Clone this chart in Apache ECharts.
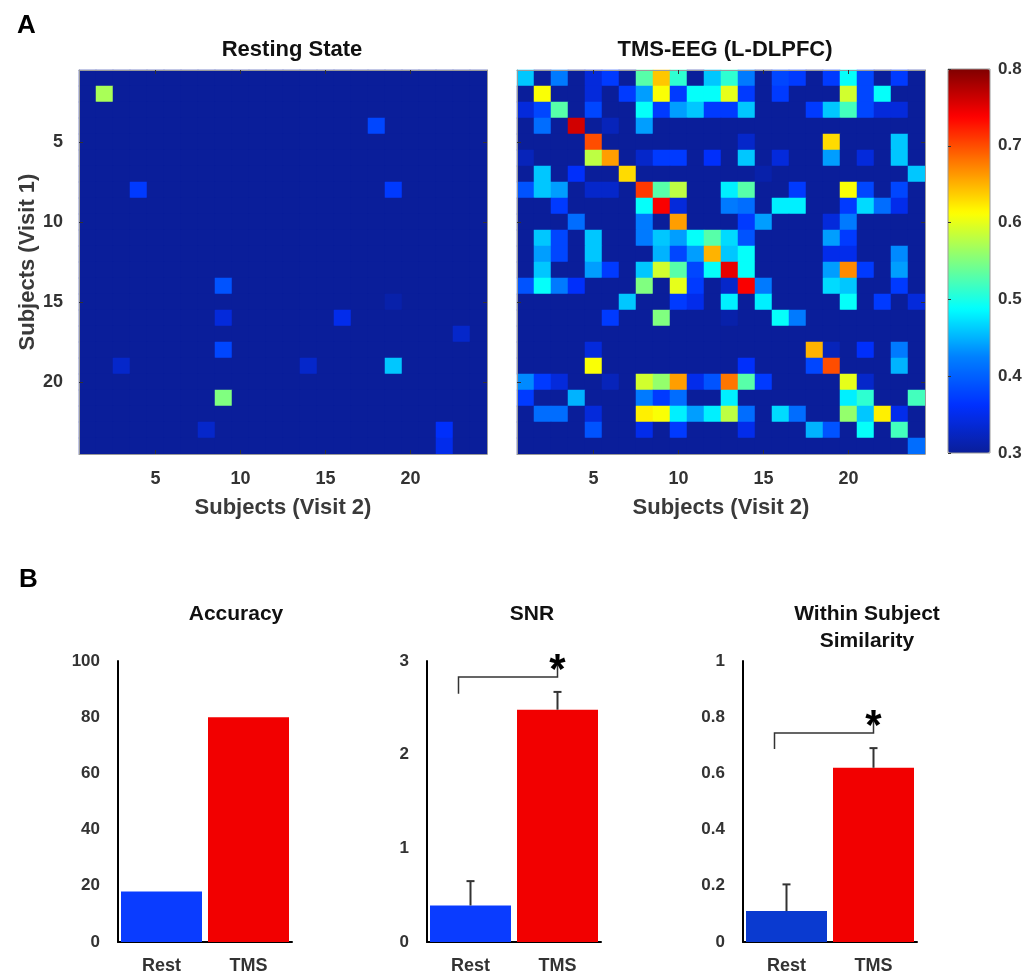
<!DOCTYPE html>
<html>
<head>
<meta charset="utf-8">
<script src="https://cdn.jsdelivr.net/npm/echarts@6/dist/echarts.min.js"></script>
<style>
  html, body { margin: 0; padding: 0; background: #fff; }
  #chart { width: 1025px; height: 975px; }
</style>
</head>
<body>
<div id="chart"></div>
<script>
// subjects 1..24
const subjects = Array.from({ length: 24 }, (_, i) => String(i + 1));

// resting state similarity: everything sits below the colour floor except these cells [row, col, value]
const restFloor = 0.28;
const restCells = [
  [2, 2, 0.57], [4, 18, 0.38], [8, 4, 0.37], [8, 19, 0.37], [14, 9, 0.39],
  [15, 19, 0.31], [16, 9, 0.34], [16, 16, 0.35], [17, 23, 0.33], [18, 9, 0.38],
  [19, 3, 0.33], [19, 14, 0.33], [19, 19, 0.46], [21, 9, 0.55], [23, 8, 0.33],
  [23, 22, 0.36], [24, 22, 0.35]
];

// TMS-EEG (L-DLPFC) similarity, rows = visit 1, cols = visit 2
const tmsRows = [
  [0.46,0.28,0.42,0.28,0.34,0.37,0.28,0.53,0.64,0.51,0.28,0.46,0.51,0.42,0.28,0.38,0.37,0.28,0.37,0.49,0.38,0.28,0.37,0.28],
  [0.28,0.61,0.28,0.28,0.34,0.28,0.37,0.44,0.61,0.37,0.49,0.49,0.60,0.37,0.28,0.37,0.28,0.28,0.28,0.59,0.38,0.49,0.28,0.28],
  [0.34,0.38,0.53,0.28,0.38,0.28,0.28,0.49,0.37,0.44,0.46,0.37,0.37,0.46,0.28,0.28,0.28,0.37,0.46,0.52,0.38,0.34,0.34,0.28],
  [0.28,0.41,0.28,0.76,0.28,0.32,0.28,0.44,0.28,0.28,0.28,0.28,0.28,0.28,0.28,0.28,0.28,0.28,0.28,0.28,0.28,0.28,0.28,0.28],
  [0.28,0.28,0.28,0.28,0.70,0.28,0.28,0.28,0.28,0.28,0.28,0.28,0.28,0.33,0.28,0.28,0.28,0.28,0.63,0.28,0.28,0.28,0.46,0.28],
  [0.32,0.28,0.28,0.28,0.58,0.66,0.28,0.33,0.37,0.37,0.28,0.36,0.28,0.46,0.28,0.34,0.28,0.28,0.44,0.28,0.34,0.28,0.46,0.28],
  [0.28,0.46,0.28,0.36,0.28,0.28,0.63,0.28,0.28,0.28,0.28,0.28,0.28,0.28,0.31,0.28,0.28,0.28,0.28,0.28,0.28,0.28,0.28,0.46],
  [0.39,0.46,0.44,0.28,0.33,0.33,0.28,0.71,0.53,0.58,0.28,0.28,0.48,0.53,0.28,0.28,0.37,0.28,0.28,0.61,0.38,0.28,0.38,0.28],
  [0.28,0.28,0.37,0.28,0.28,0.28,0.28,0.49,0.74,0.34,0.28,0.28,0.42,0.41,0.28,0.48,0.48,0.28,0.28,0.37,0.47,0.41,0.35,0.28],
  [0.28,0.28,0.28,0.41,0.28,0.28,0.28,0.42,0.28,0.66,0.28,0.28,0.28,0.37,0.44,0.28,0.28,0.28,0.34,0.42,0.28,0.28,0.28,0.28],
  [0.28,0.46,0.38,0.28,0.46,0.28,0.28,0.42,0.46,0.44,0.49,0.53,0.47,0.39,0.28,0.28,0.28,0.28,0.44,0.37,0.28,0.28,0.28,0.28],
  [0.28,0.44,0.38,0.28,0.46,0.28,0.28,0.28,0.45,0.38,0.44,0.65,0.46,0.49,0.28,0.28,0.28,0.28,0.35,0.35,0.28,0.28,0.43,0.28],
  [0.28,0.46,0.28,0.28,0.44,0.37,0.28,0.46,0.59,0.53,0.38,0.49,0.75,0.49,0.28,0.28,0.28,0.28,0.44,0.67,0.37,0.28,0.44,0.28],
  [0.39,0.49,0.42,0.36,0.28,0.28,0.28,0.55,0.28,0.60,0.37,0.28,0.33,0.74,0.42,0.28,0.28,0.28,0.47,0.46,0.28,0.28,0.37,0.28],
  [0.28,0.28,0.28,0.28,0.28,0.28,0.46,0.28,0.28,0.37,0.35,0.28,0.48,0.28,0.48,0.28,0.28,0.28,0.28,0.49,0.28,0.37,0.28,0.34],
  [0.28,0.28,0.28,0.28,0.28,0.37,0.28,0.28,0.55,0.28,0.28,0.28,0.31,0.28,0.28,0.49,0.42,0.28,0.28,0.28,0.28,0.28,0.28,0.28],
  [0.28,0.28,0.28,0.28,0.28,0.28,0.28,0.28,0.28,0.28,0.28,0.28,0.28,0.28,0.28,0.28,0.28,0.28,0.28,0.28,0.28,0.28,0.28,0.28],
  [0.28,0.28,0.28,0.28,0.34,0.28,0.28,0.28,0.28,0.28,0.28,0.28,0.28,0.28,0.28,0.28,0.28,0.65,0.32,0.28,0.36,0.28,0.42,0.28],
  [0.28,0.28,0.28,0.28,0.61,0.28,0.28,0.28,0.28,0.28,0.28,0.28,0.28,0.36,0.28,0.28,0.28,0.38,0.70,0.28,0.28,0.28,0.45,0.28],
  [0.43,0.37,0.34,0.28,0.28,0.32,0.28,0.59,0.56,0.66,0.35,0.39,0.68,0.53,0.37,0.28,0.28,0.28,0.28,0.60,0.33,0.28,0.28,0.28],
  [0.37,0.28,0.28,0.45,0.28,0.28,0.28,0.42,0.37,0.41,0.28,0.28,0.48,0.28,0.28,0.28,0.28,0.28,0.28,0.48,0.51,0.28,0.28,0.52],
  [0.28,0.41,0.41,0.28,0.34,0.28,0.28,0.62,0.61,0.48,0.44,0.48,0.58,0.41,0.28,0.47,0.41,0.28,0.28,0.56,0.46,0.62,0.35,0.28],
  [0.28,0.28,0.28,0.28,0.39,0.28,0.28,0.35,0.28,0.37,0.28,0.28,0.28,0.35,0.28,0.28,0.28,0.45,0.39,0.28,0.49,0.28,0.52,0.28],
  [0.28,0.28,0.28,0.28,0.28,0.28,0.28,0.28,0.28,0.28,0.28,0.28,0.28,0.28,0.28,0.28,0.28,0.28,0.28,0.28,0.28,0.28,0.28,0.41]
];

// panel B
const groups = ['Rest', 'TMS'];
const accuracy = [18, 80];
const snrMean = [0.39, 2.48];
const snrErr = [0.26, 0.19];
const simMean = [0.11, 0.62];
const simErr = [0.095, 0.07];
// bracket: [left group, left foot, right group, bar level, right top]
const snrBracket = [0, 2.65, 1, 2.83, 3.0];
const simBracket = [0, 0.687, 1, 0.744, 0.80];

// colour scale ticks
const cbTicks = [0.3, 0.4, 0.5, 0.6, 0.7, 0.8];

const FONT = 'Liberation Sans, Arial, sans-serif';
const jet = ['#0a1e9a', '#0030ff', '#0080ff', '#00ffff', '#80ff80', '#ffff00', '#ff8000', '#ff0000', '#800000'];

let restData = [];
for (let r = 0; r < 24; r++) {
  for (let c = 0; c < 24; c++) restData.push([c, r, restFloor]);
}
restCells.forEach(function (d) {
  restData[(d[0] - 1) * 24 + (d[1] - 1)][2] = d[2];
});

let tmsData = [];
tmsRows.forEach(function (row, r) {
  row.forEach(function (v, c) { tmsData.push([c, r, v]); });
});

function everyFifth(i) { return (i + 1) % 5 === 0; }

function heatX(grid, top, withLabel) {
  return {
    type: 'category', gridIndex: grid, data: subjects, position: top ? 'top' : 'bottom',
    z: 5,
    axisLine: { show: true, lineStyle: { color: '#9a9a9a', width: 1 } },
    axisTick: { show: true, inside: true, length: 4, alignWithLabel: true, interval: everyFifth, lineStyle: { color: '#333' } },
    axisLabel: { show: withLabel, interval: everyFifth, margin: 16, fontSize: 18, fontWeight: 'bold', color: '#333', fontFamily: FONT },
    splitLine: { show: false },
    name: withLabel ? 'Subjects (Visit 2)' : '', nameLocation: 'middle', nameGap: 43,
    nameTextStyle: { fontSize: 22, fontWeight: 'bold', color: '#3a3a3a', fontFamily: FONT }
  };
}

function heatY(grid, right, withLabel) {
  return {
    type: 'category', gridIndex: grid, data: subjects, inverse: true, position: right ? 'right' : 'left',
    z: 5,
    axisLine: { show: true, lineStyle: { color: '#9a9a9a', width: 1 } },
    axisTick: { show: true, inside: true, length: 4, alignWithLabel: true, interval: everyFifth, lineStyle: { color: '#333' } },
    axisLabel: { show: withLabel, interval: everyFifth, margin: 16, fontSize: 18, fontWeight: 'bold', color: '#333', fontFamily: FONT },
    splitLine: { show: false },
    name: withLabel ? 'Subjects (Visit 1)' : '', nameLocation: 'middle', nameGap: 40, nameRotate: 90,
    nameTextStyle: { fontSize: 22, fontWeight: 'bold', color: '#3a3a3a', fontFamily: FONT }
  };
}

function barX(grid) {
  return {
    type: 'category', gridIndex: grid, data: groups,
    axisLine: { show: true, lineStyle: { color: '#000', width: 2 } },
    axisTick: { show: false },
    axisLabel: { margin: 15, fontSize: 18, fontWeight: 'bold', color: '#333', fontFamily: FONT }
  };
}

function barY(grid, max, step) {
  return {
    type: 'value', gridIndex: grid, min: 0, max: max, interval: step,
    axisLine: { show: true, lineStyle: { color: '#000', width: 2 } },
    axisTick: { show: false },
    splitLine: { show: false },
    axisLabel: { margin: 18, fontSize: 17, fontWeight: 'bold', color: '#333', fontFamily: FONT }
  };
}

function barSeries(idx, vals, restColor) {
  return {
    type: 'bar', xAxisIndex: idx, yAxisIndex: idx, barWidth: 81,
    data: vals.map(function (v, i) {
      return { value: v, itemStyle: { color: i === 0 ? restColor : '#f20000' } };
    })
  };
}

function errorBarItem(params, api) {
  const x = api.value(0);
  const base = api.coord([x, api.value(1)]);
  const top = api.coord([x, api.value(1) + api.value(2)]);
  const st = { stroke: '#333', lineWidth: 2 };
  return {
    type: 'group',
    children: [
      { type: 'line', shape: { x1: base[0], y1: base[1], x2: top[0], y2: top[1] }, style: st },
      { type: 'line', shape: { x1: top[0] - 4, y1: top[1], x2: top[0] + 4, y2: top[1] }, style: st }
    ]
  };
}

function errorSeries(idx, mean, err) {
  return {
    type: 'custom', xAxisIndex: idx, yAxisIndex: idx, z: 3,
    renderItem: errorBarItem,
    data: mean.map(function (m, i) { return [i, m, err[i]]; })
  };
}

function bracketItem(params, api) {
  const foot = api.coord([api.value(0), api.value(1)]);
  const barL = api.coord([api.value(0), api.value(3)]);
  const barR = api.coord([api.value(2), api.value(3)]);
  const topR = api.coord([api.value(2), api.value(4)]);
  return {
    type: 'group',
    children: [
      {
        type: 'polyline',
        shape: { points: [[foot[0] - 12, foot[1]], [barL[0] - 12, barL[1]], barR, topR] },
        style: { stroke: '#333', lineWidth: 1.5, fill: null }
      },
      {
        type: 'text', x: topR[0], y: topR[1] + 10,
        style: { text: '*', fontSize: 42, fontWeight: 'bold', fontFamily: FONT, fill: '#000', align: 'center', verticalAlign: 'middle' }
      }
    ]
  };
}

function bracketSeries(idx, b) {
  return {
    type: 'custom', xAxisIndex: idx, yAxisIndex: idx, z: 4,
    encode: { x: 0, y: 1 },
    renderItem: bracketItem,
    data: [b]
  };
}

function titleAt(text, x, y, size, lh) {
  return {
    text: text, left: x, top: y, textAlign: 'center',
    textStyle: { fontSize: size, fontWeight: 'bold', color: '#111', fontFamily: FONT, lineHeight: lh || size }
  };
}

let chart = echarts.init(document.getElementById('chart'));
chart.setOption({
  backgroundColor: '#fff',
  animation: false,
  title: [
    { text: 'A', left: 12, top: 8, textStyle: { fontSize: 26, fontWeight: 'bold', color: '#000', fontFamily: FONT } },
    { text: 'B', left: 14, top: 562, textStyle: { fontSize: 26, fontWeight: 'bold', color: '#000', fontFamily: FONT } },
    titleAt('Resting State', 287, 34, 22),
    titleAt('TMS-EEG (L-DLPFC)', 720, 34, 22),
    titleAt('Accuracy', 231, 599, 21),
    titleAt('SNR', 527, 599, 21),
    titleAt('Within Subject\nSimilarity', 862, 596, 21, 27)
  ],
  grid: [
    { left: 79, top: 70, width: 408, height: 384 },
    { left: 517, top: 70, width: 408, height: 384 },
    { left: 948, top: 69, width: 42, height: 384, show: true, borderColor: '#999', borderWidth: 1, z: 10 },
    { left: 118, top: 661, width: 174, height: 282 },
    { left: 427, top: 661, width: 174, height: 282 },
    { left: 743, top: 661, width: 174, height: 282 }
  ],
  xAxis: [
    heatX(0, false, true),
    heatX(0, true, false),
    heatX(1, false, true),
    heatX(1, true, false),
    { type: 'value', gridIndex: 2, show: false },
    barX(3), barX(4), barX(5)
  ],
  yAxis: [
    heatY(0, false, true),
    heatY(0, true, false),
    heatY(1, false, false),
    heatY(1, true, false),
    {
      type: 'value', gridIndex: 2, position: 'right', min: 0.3, max: 0.8, interval: 0.1, z: 10,
      axisLine: { show: false },
      axisTick: { show: true, inside: false, length: 3, lineStyle: { color: '#333' } },
      splitLine: { show: false },
      axisLabel: { margin: 8, fontSize: 17, fontWeight: 'bold', color: '#333', fontFamily: FONT,
        formatter: function (v) { return cbTicks.indexOf(Math.round(v * 10) / 10) >= 0 ? v.toFixed(1) : ''; } }
    },
    barY(3, 100, 20), barY(4, 3, 1), barY(5, 1, 0.2)
  ],
  visualMap: {
    type: 'continuous', min: 0.3, max: 0.8, seriesIndex: [0, 1],
    calculable: false, left: 948, top: 69, itemWidth: 42, itemHeight: 384, padding: 0,
    text: null, showLabel: false,
    inRange: { color: jet }
  },
  series: [
    { type: 'heatmap', xAxisIndex: 0, yAxisIndex: 0, data: restData, progressive: 0 },
    { type: 'heatmap', xAxisIndex: 2, yAxisIndex: 2, data: tmsData, progressive: 0 },
    barSeries(5, accuracy, '#0a3cff'),
    barSeries(6, snrMean, '#0a3cff'),
    errorSeries(6, snrMean, snrErr),
    bracketSeries(6, snrBracket),
    barSeries(7, simMean, '#0a3ad0'),
    errorSeries(7, simMean, simErr),
    bracketSeries(7, simBracket)
  ]
});
</script>
</body>
</html>
